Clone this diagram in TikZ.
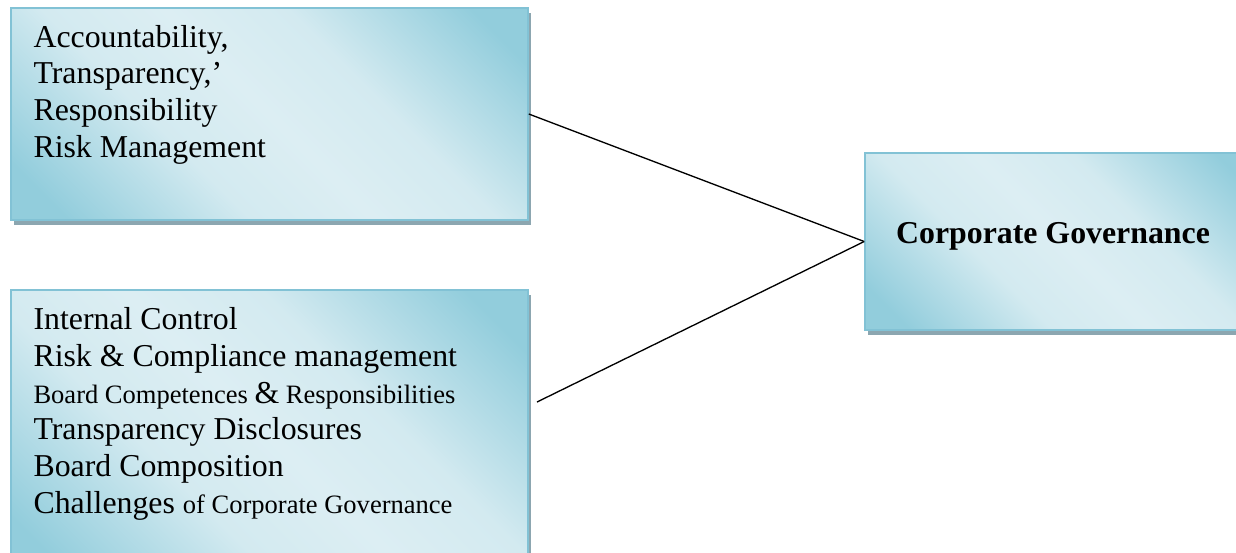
\documentclass[tikz,border=0pt]{standalone}
\usepackage{fontspec}
\setmainfont{Liberation Serif}
\usetikzlibrary{fit,shadows}

\definecolor{cgdark}{RGB}{146,205,220}
\definecolor{cglight}{RGB}{220,238,243}
\definecolor{cgedge}{RGB}{130,194,213}
\definecolor{cgshade}{RGB}{140,166,176}
% light band across the box, darker towards two corners
\pgfdeclarehorizontalshading{cgfill}{100bp}{color(0bp)=(cgdark); color(20bp)=(cgdark); color(38bp)=(cglight!88!cgdark); color(50bp)=(cglight); color(62bp)=(cglight!88!cgdark); color(80bp)=(cgdark); color(100bp)=(cgdark)}

\begin{document}
\begin{tikzpicture}[x=0.377pt,y=-0.377pt,
  cgbox/.style={draw=cgedge, line width=0.6pt, shading=cgfill, shading angle=45, inner sep=0pt,
    drop shadow={fill=cgshade, opacity=1, shadow xshift=1.2pt, shadow yshift=-1.7pt}},
  cgtext/.style={anchor=base west, inner sep=0pt, align=left, font=\fontsize{12}{13.8}\selectfont},
  cgline/.style={line width=0.5pt}]
\useasboundingbox (0,0) rectangle (1236,552);
%\draw[thin,gray!40] (0,0) grid[step=100] (1236,552);

 % the boxes
 \node[cgbox, fit={(11,8) (528,220)}] (pillars) {};
 \node[cgbox, fit={(11,290) (528,580)}] (issues) {};
 \node[cgbox, fit={(865,153) (1260,330)}] (cg) {};

 % anchored on the baseline of the last line
 \node[cgtext] (pillars text) at (33,157) {Accountability,\\Transparency,'\\Responsibility\\Risk Management};
 \node[cgtext] (issues text) at (33,513) {Internal Control\\
   Risk \& Compliance management\\
   {\fontsize{10}{13.8}\selectfont Board Competences }\&{\fontsize{10}{13.8}\selectfont{} Responsibilities}\\
   Transparency Disclosures\\
   Board Composition\\
   Challenges {\fontsize{10}{13.8}\selectfont of Corporate Governance}};
 \node[font=\fontsize{12}{14}\selectfont\bfseries, inner sep=0pt] (cg text) at (1053,236) {Corporate Governance};

 % the two links
 \coordinate (issues end) at (537,402);
 \draw[cgline] (pillars.east) -- (cg.west);
 \draw[cgline] (issues end) -- (cg.west);

%  \draw[red] (issues.east) -- (cg.west);
\end{tikzpicture}
\end{document}
